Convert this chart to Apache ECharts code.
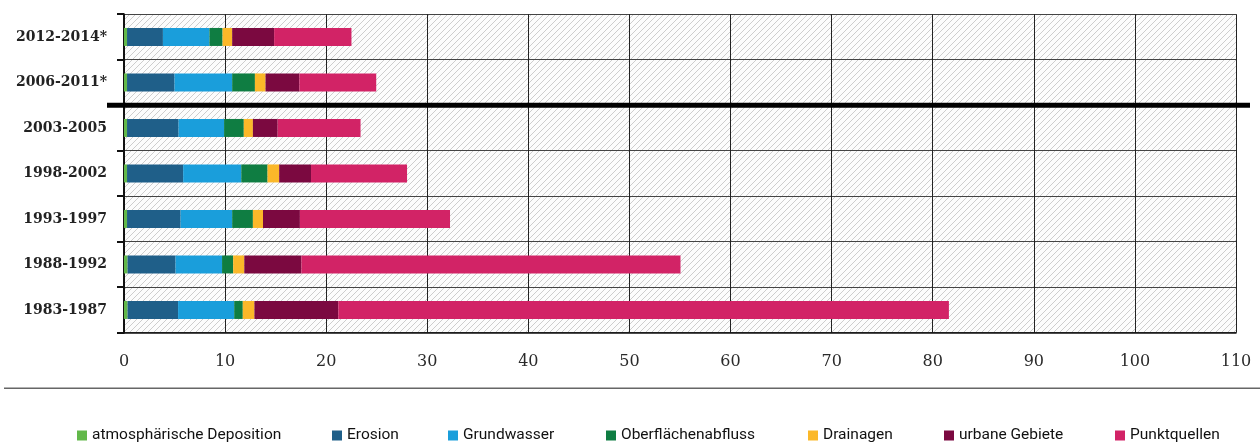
<!DOCTYPE html>
<html>
<head>
<meta charset="utf-8">
<script src="https://cdn.jsdelivr.net/npm/echarts@6/dist/echarts.min.js"></script>
<style>
  html, body { margin: 0; padding: 0; background: #fff; }
  #chart-container { width: 1260px; height: 442px; }
</style>
</head>
<body>
<div id="chart-container"></div>
<script>
// Zeiträume (von unten nach oben, wie die Kategorieachse zählt)
var periods = ['1983-1987', '1988-1992', '1993-1997', '1998-2002', '2003-2005', '2006-2011*', '2012-2014*'];

// Einträge je Quelle
var atmosDeposition = [0.35, 0.35, 0.3, 0.3, 0.3, 0.3, 0.3];
var erosion = [5.0, 4.75, 5.3, 5.55, 5.1, 4.7, 3.55];
var grundwasser = [5.55, 4.6, 5.1, 5.75, 4.5, 5.7, 4.6];
var oberflaechenabfluss = [0.85, 1.1, 2.05, 2.6, 1.95, 2.25, 1.3];
var drainagen = [1.15, 1.1, 1.0, 1.15, 0.9, 1.05, 0.95];
var urbaneGebiete = [8.3, 5.65, 3.65, 3.15, 2.45, 3.35, 4.15];
var punktquellen = [60.4, 37.5, 14.85, 9.5, 8.2, 7.6, 7.65];

var xTicks = { min: 0, max: 110, interval: 10 };

var sources = [
    { name: 'atmosphärische Deposition', data: atmosDeposition, color: '#62b84a', legendX: 77 },
    { name: 'Erosion', data: erosion, color: '#1f5f89', legendX: 332 },
    { name: 'Grundwasser', data: grundwasser, color: '#1a9edb', legendX: 448 },
    { name: 'Oberflächenabfluss', data: oberflaechenabfluss, color: '#0f7d42', legendX: 606 },
    { name: 'Drainagen', data: drainagen, color: '#fbb829', legendX: 808 },
    { name: 'urbane Gebiete', data: urbaneGebiete, color: '#7b0940', legendX: 944 },
    { name: 'Punktquellen', data: punktquellen, color: '#d22366', legendX: 1115 }
];

// schraffierter Hintergrund
var tile = document.createElement('canvas');
tile.width = 6;
tile.height = 6;
var ctx = tile.getContext('2d');
ctx.fillStyle = '#fcfcfc';
ctx.fillRect(0, 0, 6, 6);
ctx.strokeStyle = '#cdcdcd';
ctx.lineWidth = 1;
ctx.beginPath();
ctx.moveTo(0, 6); ctx.lineTo(6, 0);
ctx.moveTo(-1, 1); ctx.lineTo(1, -1);
ctx.moveTo(5, 7); ctx.lineTo(7, 5);
ctx.stroke();

var dom = document.getElementById('chart-container');
var myChart = echarts.init(dom, null, { renderer: 'canvas' });

var option = {
    animation: false,
    legend: sources.map(function (s) {
        return {
            data: [s.name],
            left: s.legendX,
            top: 427,
            icon: 'rect',
            itemWidth: 10,
            itemHeight: 10,
            itemGap: 0,
            padding: 0,
            selectedMode: false,
            textStyle: { fontFamily: 'Roboto', fontSize: 15.5, color: '#111', lineHeight: 17 }
        };
    }),
    grid: {
        left: 124,
        right: 24,
        top: 14.2,
        bottom: 109.3,
        show: true,
        borderWidth: 0,
        backgroundColor: { image: tile, repeat: 'repeat' }
    },
    xAxis: {
        type: 'value',
        min: xTicks.min,
        max: xTicks.max,
        interval: xTicks.interval,
        axisLine: { show: true, lineStyle: { color: '#111', width: 1.5 } },
        axisTick: { show: false },
        axisLabel: { margin: 21, fontFamily: 'DejaVu Serif', fontSize: 16, color: '#2a2a2a' },
        splitLine: { show: true, lineStyle: { color: '#222', width: 1 } }
    },
    yAxis: {
        type: 'category',
        data: periods,
        axisLine: { show: true, lineStyle: { color: '#111', width: 2 } },
        axisTick: { show: true, length: 7, lineStyle: { color: '#111', width: 2 } },
        axisLabel: { margin: 17, fontFamily: 'DejaVu Serif', fontWeight: 'bold', fontSize: 14, color: '#222' },
        splitLine: { show: true, lineStyle: { color: '#444', width: 1 } }
    },
    series: sources.map(function (s) {
        return {
            name: s.name,
            type: 'bar',
            stack: 'total',
            barWidth: 18,
            itemStyle: { color: s.color },
            data: s.data
        };
    })
};

myChart.setOption(option);

// dicke Trennlinie zwischen 2003-2005 und 2006-2011*, Position aus der Achse
var yA = myChart.convertToPixel({ yAxisIndex: 0 }, '2003-2005');
var yB = myChart.convertToPixel({ yAxisIndex: 0 }, '2006-2011*');
var ySep = (yA + yB) / 2;
var x0 = myChart.convertToPixel({ xAxisIndex: 0 }, xTicks.min);
var x1 = myChart.convertToPixel({ xAxisIndex: 0 }, xTicks.max);

myChart.setOption({
    graphic: [
        {
            type: 'line',
            z: 100,
            shape: { x1: x0 - 17, y1: ySep, x2: x1 + 14, y2: ySep },
            style: { stroke: '#000', lineWidth: 5 }
        },
        {
            type: 'line',
            z: 100,
            shape: { x1: 4, y1: 388.3, x2: 1260, y2: 388.3 },
            style: { stroke: '#666', lineWidth: 1.5 }
        }
    ]
});

window.addEventListener('resize', myChart.resize);
</script>
</body>
</html>
